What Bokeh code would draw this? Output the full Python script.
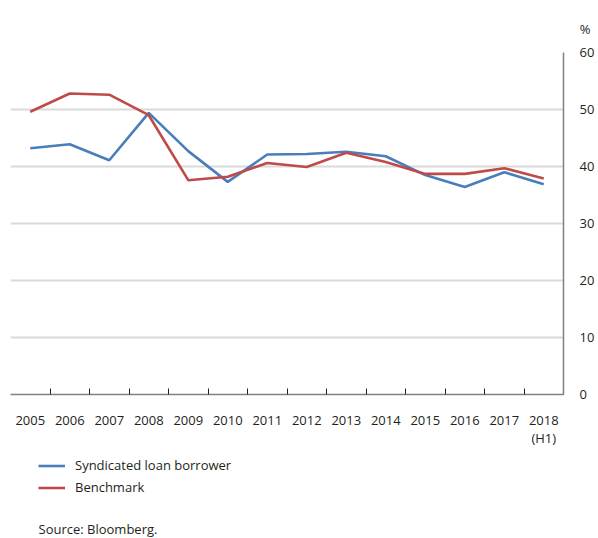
from bokeh.plotting import figure
from bokeh.layouts import column
from bokeh.models import (FixedTicker, LinearAxis, Range1d, Label, Legend, LegendItem, Title)
from bokeh.embed import file_html
from bokeh.resources import INLINE

years = ["2005", "2006", "2007", "2008", "2009", "2010", "2011", "2012",
         "2013", "2014", "2015", "2016", "2017", "2018\n(H1)"]
syndicated = [43.2, 43.9, 41.1, 49.4, 42.7, 37.3, 42.1, 42.2, 42.6, 41.8, 38.5, 36.4, 39.0, 36.9]
benchmark = [49.6, 52.8, 52.6, 49.0, 37.6, 38.2, 40.6, 39.9, 42.4, 40.8, 38.7, 38.7, 39.7, 37.9]
y_ticks = [0, 10, 20, 30, 40, 50, 60]
grid_ticks = [10, 20, 30, 40, 50]

FONT = "Open Sans"
TXT = "#231f20"
BLUE = "#4a7ebb"
RED = "#be4b48"
AXIS = "#808080"

xs = [i + 0.5 for i in range(len(years))]

p = figure(width=598, height=450, output_backend="svg", toolbar_location=None,
           x_range=Range1d(0, len(years)), y_range=Range1d(0, 60),
           x_axis_location=None, y_axis_location=None,
           min_border_left=10, min_border_right=35, min_border_top=52, min_border_bottom=56)
p.outline_line_color = None
p.background_fill_color = "white"
p.border_fill_color = "white"

# x axis: ticks at category boundaries (minor), labels at centres (major)
xax = LinearAxis(ticker=FixedTicker(ticks=xs, minor_ticks=list(range(1, len(years) + 1))))
xax.major_label_overrides = {x: y for x, y in zip(xs, years)}
xax.major_tick_in = 0
xax.major_tick_out = 0
xax.minor_tick_in = 6
xax.minor_tick_out = 0
xax.minor_tick_line_color = TXT
xax.minor_tick_line_width = 1
xax.axis_line_color = AXIS
xax.axis_line_width = 1.5
xax.major_label_standoff = 16
xax.major_label_text_font = FONT
xax.major_label_text_font_size = "13px"
xax.major_label_text_color = TXT
xax.major_label_text_line_height = 1.0
p.add_layout(xax, "below")

yax = LinearAxis(ticker=FixedTicker(ticks=y_ticks))
yax.major_tick_in = 0
yax.major_tick_out = 0
yax.minor_tick_line_color = None
yax.axis_line_color = AXIS
yax.axis_line_width = 1.5
yax.major_label_standoff = 16
yax.major_label_text_font = FONT
yax.major_label_text_font_size = "13px"
yax.major_label_text_color = TXT
p.add_layout(yax, "right")

pct = Title(text="%", align="right", offset=-27, standoff=29,
            text_font=FONT, text_font_size="13px", text_font_style="normal", text_color=TXT)
p.add_layout(pct, "above")

p.ygrid.ticker = FixedTicker(ticks=grid_ticks)
p.ygrid.grid_line_color = "#dadada"
p.ygrid.grid_line_width = 2
p.xgrid.grid_line_color = None

p.line(xs, syndicated, line_color=BLUE, line_width=2.6)
p.line(xs, benchmark, line_color=RED, line_width=2.6)

# lower panel: legend and source note (series drawn off-range, only legend swatches show)
q = figure(width=598, height=88, output_backend="svg", toolbar_location=None,
           x_range=Range1d(0, 1), y_range=Range1d(0, 1),
           x_axis_location=None, y_axis_location=None,
           min_border_left=0, min_border_right=0, min_border_top=0, min_border_bottom=0)
q.outline_line_color = None
q.xgrid.grid_line_color = None
q.ygrid.grid_line_color = None
l1 = q.line(xs, syndicated, line_color=BLUE, line_width=2.6)
l2 = q.line(xs, benchmark, line_color=RED, line_width=2.6)

legend = Legend(items=[LegendItem(label="Syndicated loan borrower", renderers=[l1]),
                       LegendItem(label="Benchmark", renderers=[l2])],
                location=(28, 42))
legend.orientation = "vertical"
legend.padding = 0
legend.margin = 0
legend.spacing = 4
legend.glyph_width = 27
legend.glyph_height = 15
legend.label_height = 15
legend.label_standoff = 10
legend.label_text_font = FONT
legend.label_text_font_size = "13px"
legend.label_text_color = TXT
legend.border_line_color = None
legend.background_fill_alpha = 0
q.add_layout(legend, "center")

q.add_layout(Label(x=28, y=19, x_units="screen", y_units="screen", text="Source: Bloomberg.",
                   text_font=FONT, text_font_size="13px", text_color=TXT,
                   text_align="left", text_baseline="top"))

open("out.html", "w").write(file_html(column(p, q), INLINE))
